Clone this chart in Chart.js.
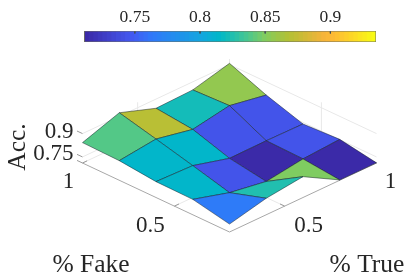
<!DOCTYPE html>
<html>
<head>
<meta charset="utf-8">
<style>
  html, body { margin: 0; padding: 0; background: #fff; }
  #wrap { position: relative; width: 415px; height: 276px; overflow: hidden; }
  canvas { position: absolute; left: 0; top: 0; }
</style>
<script src="https://cdn.jsdelivr.net/npm/chart.js@4"></script>
</head>
<body>
<div id="wrap">
  <canvas id="surface" width="415" height="276"></canvas>
  <canvas id="colorbar" width="415" height="43"></canvas>
</div>
<script>
// data
const fakeValues = [1, 0.8, 0.6, 0.4, 0.2];
const trueValues = [1, 0.8, 0.6, 0.4, 0.2];
// accuracy at each grid vertex, one row per % True
const accT100 = [0.908, 0.815, 0.740, 0.752, 0.712];
const accT80 = [0.848, 0.858, 0.743, 0.737, 0.713];
const accT60 = [0.841, 0.816, 0.741, 0.703, 0.845];
const accT40 = [0.923, 0.865, 0.805, 0.742, 0.817];
const accT20 = [0.842, 0.837, 0.813, 0.810, 0.762];
const accRows = [accT100, accT80, accT60, accT40, accT20];
// colour value of each face
const faceT100 = [0.855, 0.744, 0.744, 0.713];
const faceT80 = [0.823, 0.745, 0.713, 0.848];
const faceT60 = [0.872, 0.815, 0.745, 0.825];
const faceT40 = [0.838, 0.815, 0.815, 0.765];
const faceRows = [faceT100, faceT80, faceT60, faceT40];

const fakeTicks = [0.5, 1];
const trueTicks = [0.5, 1];
const accTicks = [0.75, 0.9];
const colorTicks = [0.75, 0.8, 0.85, 0.9];

const cMin = 0.711;
const cMax = 0.935;
const gridMin = 0.2;

// colormap sampled from the colorbar
const mapStops = [0, 0.157, 0.226, 0.397, 0.466, 0.507, 0.568, 0.62, 0.705, 0.774, 0.825, 0.86, 0.91, 1];
const mapColors = [
  [59, 42, 168], [68, 88, 240], [48, 120, 250], [20, 165, 224], [0, 184, 200],
  [32, 191, 176], [80, 200, 138], [128, 204, 96], [180, 192, 52], [216, 184, 56],
  [245, 180, 58], [254, 186, 53], [253, 208, 42], [248, 250, 20],
];

const colorAt = (v) => {
  const levels = 64;
  let t = (v - cMin) / (cMax - cMin);
  t = Math.max(0, Math.min(1, t));
  t = Math.min(levels - 1, Math.floor(t * levels)) / (levels - 1);
  let i = 0;
  while (i < mapStops.length - 2 && t > mapStops[i + 1]) i++;
  const p = (t - mapStops[i]) / (mapStops[i + 1] - mapStops[i]);
  const c = mapColors[i].map((a, k) => Math.round(a + (mapColors[i + 1][k] - a) * p));
  return `rgb(${c[0]},${c[1]},${c[2]})`;
};

// 3d view: the x/y scales are the projected plane
const project = (fake, tru, acc) => {
  const f = (fake - gridMin) / (1 - gridMin);
  const t = (tru - gridMin) / (1 - gridMin);
  return { x: t - f, y: 69 * (f + t) + 155.6 * (acc - cMin) };
};

const line = (points, color, width) => ({
  data: points,
  showLine: true,
  borderColor: color,
  borderWidth: width,
  pointRadius: 0,
  fill: false,
});

const datasets = [];
const add = (d) => {
  d.order = -datasets.length;
  datasets.push(d);
};

// walls
const gridColor = "#e8e8e8";
accTicks.forEach((z) => {
  add(line([project(1, gridMin, z), project(1, 1, z), project(gridMin, 1, z)], gridColor, 1));
});
fakeTicks.forEach((f) => {
  add(line([project(f, 1, cMin), project(f, 1, cMax)], gridColor, 1));
});
trueTicks.forEach((t) => {
  add(line([project(1, t, cMin), project(1, t, cMax)], gridColor, 1));
  add(line([project(1, t, cMin), project(gridMin, t, cMin)], gridColor, 1));
});
fakeTicks.forEach((f) => {
  add(line([project(f, 1, cMin), project(f, gridMin, cMin)], gridColor, 1));
});

// axes
const axisColor = "#a8a8a8";
add(line([project(1, gridMin, cMin), project(gridMin, gridMin, cMin), project(gridMin, 1, cMin)], axisColor, 1));
accTicks.concat([cMin]).forEach((z) => {
  add(line([project(1, gridMin, z), project(1.03, gridMin, z)], "#999", 1));
});
fakeTicks.forEach((f) => {
  add(line([project(f, gridMin, cMin), project(f, gridMin + 0.025, cMin)], "#999", 1));
});
trueTicks.forEach((t) => {
  add(line([project(gridMin, t, cMin), project(gridMin + 0.025, t, cMin)], "#999", 1));
});

// faces, back to front
faceRows.forEach((row, i) => {
  row.forEach((v, j) => {
    const corners = [[i, j], [i, j + 1], [i + 1, j + 1], [i + 1, j], [i, j]];
    add({
      data: corners.map(([a, b]) => project(fakeValues[b], trueValues[a], accRows[a][b])),
      showLine: true,
      backgroundColor: colorAt(v),
      borderColor: "rgba(20,30,40,0.7)",
      borderWidth: 0.7,
      pointRadius: 0,
      fill: "shape",
    });
  });
});

const sf = '"Liberation Serif", "Times New Roman", serif';
const textColor = "#262626";

const labelsPlugin = {
  id: "labels3d",
  afterDraw(chart) {
    const { ctx, scales } = chart;
    const at = (fake, tru, acc) => {
      const p = project(fake, tru, acc);
      return [scales.x.getPixelForValue(p.x), scales.y.getPixelForValue(p.y)];
    };
    const put = (text, x, y, align, size) => {
      ctx.font = `${size}px ${sf}`;
      ctx.textAlign = align;
      ctx.textBaseline = "alphabetic";
      ctx.fillText(text, x, y);
    };
    ctx.save();
    ctx.fillStyle = textColor;
    fakeTicks.forEach((f) => {
      const [x, y] = at(f, gridMin, cMin);
      const dx = f === 1 ? -14 : -24;
      put(String(f), x + dx, y + (f === 1 ? 25 : 26), "center", 23);
    });
    trueTicks.forEach((t) => {
      const [x, y] = at(gridMin, t, cMin);
      const dx = t === 1 ? 14 : 24;
      put(String(t), x + dx, y + (t === 1 ? 25 : 26), "center", 23);
    });
    accTicks.forEach((z) => {
      const [x, y] = at(1, gridMin, z);
      put(String(z), x - 9, y + (z === 0.9 ? 4 : 3), "right", 23);
    });
    put("% Fake", 91, 272, "center", 25.5);
    put("% True", 367, 272, "center", 25.5);
    ctx.translate(25, 147);
    ctx.rotate(-Math.PI / 2);
    put("Acc.", 0, 0, "center", 25.5);
    ctx.restore();
  },
};

new Chart(document.getElementById("surface"), {
  type: "scatter",
  data: { datasets },
  options: {
    responsive: false,
    animation: false,
    events: [],
    layout: { padding: 0 },
    elements: { line: { tension: 0 } },
    plugins: { legend: { display: false }, tooltip: { enabled: false }, title: { display: false } },
    scales: {
      x: { type: "linear", display: false, min: -229.5 / 147, max: 185.5 / 147 },
      y: { type: "linear", display: false, min: -44, max: 232 },
    },
  },
  plugins: [labelsPlugin],
});

// colorbar
const barSets = [];
const barLevels = 64;
for (let i = 0; i < barLevels; i++) {
  const v0 = cMin + ((cMax - cMin) * i) / barLevels;
  const v1 = i === barLevels - 1 ? cMax : cMin + ((cMax - cMin) * (i + 1.3)) / barLevels;
  barSets.push({
    data: [{ x: v0, y: 0 }, { x: v1, y: 0 }, { x: v1, y: 1 }, { x: v0, y: 1 }, { x: v0, y: 0 }],
    showLine: true,
    backgroundColor: colorAt(v0 + 0.0001),
    borderWidth: 0,
    pointRadius: 0,
    fill: "shape",
    order: -i,
  });
}
colorTicks.forEach((v) => {
  barSets.push(Object.assign(line([{ x: v, y: 1 }, { x: v, y: 0.78 }], "#44505a", 1), { order: -100 }));
});
barSets.push(
  Object.assign(
    line(
      [{ x: cMin, y: 0 }, { x: cMax, y: 0 }, { x: cMax, y: 1 }, { x: cMin, y: 1 }, { x: cMin, y: 0 }],
      "#6e6e60",
      1
    ),
    { order: -101 }
  )
);

new Chart(document.getElementById("colorbar"), {
  type: "scatter",
  data: { datasets: barSets },
  options: {
    responsive: false,
    animation: false,
    events: [],
    layout: { padding: { left: 84, right: 39, top: 0, bottom: 1 } },
    elements: { line: { tension: 0 } },
    plugins: { legend: { display: false }, tooltip: { enabled: false } },
    scales: {
      x: {
        type: "linear",
        position: "top",
        min: cMin,
        max: cMax,
        border: { display: false },
        grid: { display: false, drawTicks: false },
        afterBuildTicks: (s) => {
          s.ticks = colorTicks.map((value) => ({ value }));
        },
        afterFit: (s) => {
          s.height = 31;
        },
        ticks: {
          color: textColor,
          padding: 3,
          maxRotation: 0,
          autoSkip: false,
          font: { family: sf, size: 17.5 },
          callback: (v) => String(v),
        },
      },
      y: { type: "linear", display: false, min: 0, max: 1 },
    },
  },
});
</script>
</body>
</html>
